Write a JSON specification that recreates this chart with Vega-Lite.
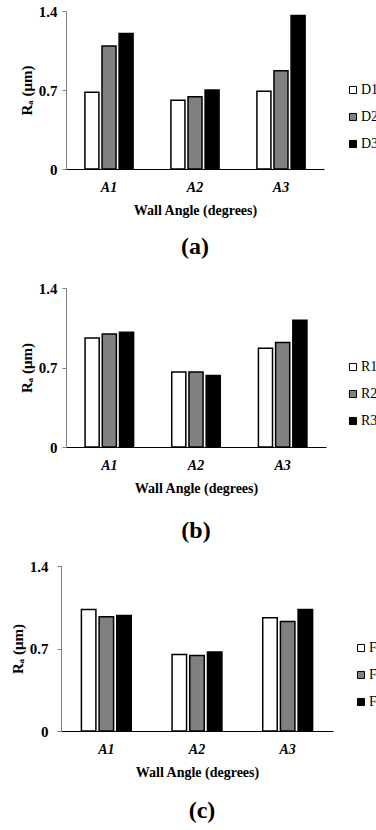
{
  "$schema": "https://vega.github.io/schema/vega-lite/v6.json",
  "padding": {"left": 10, "top": 4, "right": 0, "bottom": 0},
  "background": "white",
  "config": {
    "font": "Liberation Serif",
    "view": {"stroke": null},
    "concat": {"spacing": 16},
    "axis": {"grid": false, "labelFont": "Liberation Serif", "titleFont": "Liberation Serif", "labelFontWeight": "bold", "titleFontWeight": "bold", "labelColor": "#000", "titleColor": "#000", "labelFontSize": 14, "titleFontSize": 14},
    "axisY": {"labelFontSize": 15, "titleFontSize": 15},
    "legend": {"title": null, "orient": "none", "padding": 0, "symbolType": "square", "symbolSize": 50, "symbolStrokeColor": "#000", "symbolStrokeWidth": 1, "labelFont": "Liberation Serif", "labelFontSize": 14, "labelColor": "#000", "labelOffset": 1, "rowPadding": 13},
    "title": {"font": "Liberation Serif", "fontSize": 24, "fontWeight": "bold", "color": "#000", "orient": "bottom", "anchor": "middle", "offset": 20}
  },
  "datasets": {
    "d": [
      {"panel": "a", "angle": "A1", "level": "D1", "ra": 0.68},
      {"panel": "a", "angle": "A1", "level": "D2", "ra": 1.09},
      {"panel": "a", "angle": "A1", "level": "D3", "ra": 1.20},
      {"panel": "a", "angle": "A2", "level": "D1", "ra": 0.61},
      {"panel": "a", "angle": "A2", "level": "D2", "ra": 0.64},
      {"panel": "a", "angle": "A2", "level": "D3", "ra": 0.70},
      {"panel": "a", "angle": "A3", "level": "D1", "ra": 0.69},
      {"panel": "a", "angle": "A3", "level": "D2", "ra": 0.87},
      {"panel": "a", "angle": "A3", "level": "D3", "ra": 1.36},
      {"panel": "b", "angle": "A1", "level": "R1", "ra": 0.96},
      {"panel": "b", "angle": "A1", "level": "R2", "ra": 0.995},
      {"panel": "b", "angle": "A1", "level": "R3", "ra": 1.01},
      {"panel": "b", "angle": "A2", "level": "R1", "ra": 0.66},
      {"panel": "b", "angle": "A2", "level": "R2", "ra": 0.66},
      {"panel": "b", "angle": "A2", "level": "R3", "ra": 0.63},
      {"panel": "b", "angle": "A3", "level": "R1", "ra": 0.87},
      {"panel": "b", "angle": "A3", "level": "R2", "ra": 0.92},
      {"panel": "b", "angle": "A3", "level": "R3", "ra": 1.115},
      {"panel": "c", "angle": "A1", "level": "F1", "ra": 1.03},
      {"panel": "c", "angle": "A1", "level": "F2", "ra": 0.97},
      {"panel": "c", "angle": "A1", "level": "F3", "ra": 0.98},
      {"panel": "c", "angle": "A2", "level": "F1", "ra": 0.65},
      {"panel": "c", "angle": "A2", "level": "F2", "ra": 0.64},
      {"panel": "c", "angle": "A2", "level": "F3", "ra": 0.67},
      {"panel": "c", "angle": "A3", "level": "F1", "ra": 0.96},
      {"panel": "c", "angle": "A3", "level": "F2", "ra": 0.93},
      {"panel": "c", "angle": "A3", "level": "F3", "ra": 1.03}
    ]
  },
  "resolve": {"scale": {"color": "independent", "x": "independent", "xOffset": "independent", "y": "independent"}},
  "vconcat": [
    {
      "data": {"name": "d"},
      "transform": [{"filter": "datum.panel == 'a'"}],
      "width": 258, "height": 158,
      "title": {"text": "(a)", "offset": 18, "subtitle": " ", "subtitleFontSize": 4, "subtitlePadding": 2},
      "mark": {"type": "bar", "stroke": "#000", "strokeWidth": 1.5},
      "encoding": {
        "x": {"field": "angle", "type": "nominal", "scale": {"paddingInner": 0.44, "paddingOuter": 0.22}, "axis": {"title": "Wall Angle (degrees)", "labelAngle": 0, "labelFontStyle": "italic", "ticks": false, "labelPadding": 11, "titlePadding": 9, "domainColor": "#000"}},
        "xOffset": {"field": "level", "type": "nominal", "scale": {"paddingInner": 0.18}},
        "y": {"field": "ra", "type": "quantitative", "scale": {"domain": [0, 1.4]}, "axis": {"values": [0, 0.7, 1.4], "format": ".1~f", "title": "Rₐ (μm)", "tickSize": 4, "tickColor": "#808080", "domainColor": "#808080", "labelPadding": 5, "titlePadding": 4}},
        "color": {"field": "level", "type": "nominal", "scale": {"range": ["#ffffff", "#808080", "#000000"]}, "legend": {"legendX": 280, "legendY": 72}}
      }
    },
    {
      "data": {"name": "d"},
      "transform": [{"filter": "datum.panel == 'b'"}],
      "width": 260, "height": 159,
      "title": {"text": "(b)", "offset": 24},
      "mark": {"type": "bar", "stroke": "#000", "strokeWidth": 1.5},
      "encoding": {
        "x": {"field": "angle", "type": "nominal", "scale": {"paddingInner": 0.44, "paddingOuter": 0.22}, "axis": {"title": "Wall Angle (degrees)", "labelAngle": 0, "labelFontStyle": "italic", "ticks": false, "labelPadding": 11, "titlePadding": 9, "domainColor": "#000"}},
        "xOffset": {"field": "level", "type": "nominal", "scale": {"paddingInner": 0.18}},
        "y": {"field": "ra", "type": "quantitative", "scale": {"domain": [0, 1.4]}, "axis": {"values": [0, 0.7, 1.4], "format": ".1~f", "title": "Rₐ (μm)", "tickSize": 4, "tickColor": "#808080", "domainColor": "#808080", "labelPadding": 5, "titlePadding": 4}},
        "color": {"field": "level", "type": "nominal", "scale": {"range": ["#ffffff", "#808080", "#000000"]}, "legend": {"legendX": 280, "legendY": 72}}
      }
    },
    {
      "data": {"name": "d"},
      "transform": [{"filter": "datum.panel == 'c'"}],
      "width": 272, "height": 165,
      "title": {"text": "(c)"},
      "mark": {"type": "bar", "stroke": "#000", "strokeWidth": 1.5},
      "encoding": {
        "x": {"field": "angle", "type": "nominal", "scale": {"paddingInner": 0.45, "paddingOuter": 0.225, "range": [-5, 267]}, "axis": {"title": "Wall Angle (degrees)", "labelAngle": 0, "labelFontStyle": "italic", "ticks": false, "labelPadding": 11, "titlePadding": 9, "domainColor": "#000"}},
        "xOffset": {"field": "level", "type": "nominal", "scale": {"paddingInner": 0.18}},
        "y": {"field": "ra", "type": "quantitative", "scale": {"domain": [0, 1.4]}, "axis": {"values": [0, 0.7, 1.4], "format": ".1~f", "title": "Rₐ (μm)", "offset": 5, "tickSize": 4, "tickColor": "#808080", "domainColor": "#808080", "labelPadding": 9, "titlePadding": 4}},
        "color": {"field": "level", "type": "nominal", "scale": {"range": ["#ffffff", "#808080", "#000000"]}, "legend": {"legendX": 288, "legendY": 75}}
      }
    }
  ]
}
